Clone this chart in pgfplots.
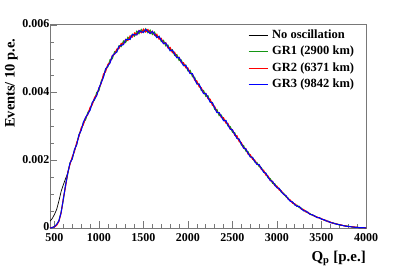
\documentclass[border=0pt]{standalone}
\usepackage{pgfplots}
\pgfplotsset{compat=1.18}
\usepackage{pgfplotstable}
\usepackage{fontspec}
\setmainfont{Liberation Serif}
\definecolor{rgreen}{RGB}{20,150,20}
\definecolor{rred}{RGB}{255,0,0}
\definecolor{rblue}{RGB}{0,0,255}
\definecolor{framegray}{RGB}{120,120,120}

\pgfplotstableread{
Q nosc gr1 gr2 gr3
450 0.00020 0.00000 0.00000 0.00000
475 0.00028 0.00001 0.00002 0.00001
500 0.00040 0.00005 0.00003 0.00004
525 0.00055 0.00010 0.00008 0.00011
550 0.00080 0.00022 0.00019 0.00021
575 0.00108 0.00047 0.00044 0.00046
600 0.00128 0.00083 0.00088 0.00086
625 0.00146 0.00128 0.00122 0.00127
650 0.00163 0.00160 0.00165 0.00163
675 0.00191 0.00193 0.00188 0.00192
700 0.00207 0.00204 0.00211 0.00205
725 0.00228 0.00231 0.00226 0.00232
750 0.00250 0.00247 0.00253 0.00246
775 0.00272 0.00276 0.00270 0.00275
800 0.00292 0.00290 0.00296 0.00288
825 0.00308 0.00312 0.00305 0.00313
850 0.00323 0.00320 0.00327 0.00327
875 0.00338 0.00342 0.00335 0.00337
900 0.00353 0.00349 0.00357 0.00348
925 0.00367 0.00371 0.00364 0.00371
950 0.00382 0.00378 0.00386 0.00381
975 0.00396 0.00401 0.00393 0.00391
1000 0.00410 0.00406 0.00414 0.00414
1025 0.00430 0.00434 0.00427 0.00429
1050 0.00450 0.00446 0.00455 0.00445
1075 0.00466 0.00471 0.00462 0.00470
1100 0.00480 0.00476 0.00484 0.00479
1125 0.00493 0.00498 0.00489 0.00488
1150 0.00505 0.00500 0.00510 0.00509
1175 0.00516 0.00521 0.00513 0.00515
1200 0.00525 0.00520 0.00529 0.00520
1225 0.00533 0.00539 0.00530 0.00537
1250 0.00541 0.00536 0.00546 0.00540
1275 0.00547 0.00553 0.00543 0.00542
1300 0.00553 0.00548 0.00558 0.00557
1325 0.00558 0.00564 0.00554 0.00557
1350 0.00563 0.00558 0.00568 0.00558
1375 0.00568 0.00573 0.00564 0.00572
1400 0.00572 0.00567 0.00577 0.00571
1425 0.00576 0.00582 0.00571 0.00571
1450 0.00579 0.00574 0.00584 0.00583
1475 0.00581 0.00587 0.00577 0.00580
1500 0.00583 0.00578 0.00588 0.00578
1525 0.00583 0.00589 0.00579 0.00587
1550 0.00582 0.00577 0.00587 0.00581
1575 0.00580 0.00585 0.00575 0.00575
1600 0.00577 0.00572 0.00582 0.00581
1625 0.00573 0.00579 0.00569 0.00572
1650 0.00568 0.00563 0.00573 0.00563
1675 0.00562 0.00567 0.00558 0.00566
1700 0.00556 0.00551 0.00561 0.00555
1725 0.00550 0.00555 0.00545 0.00545
1750 0.00543 0.00538 0.00548 0.00547
1775 0.00536 0.00541 0.00532 0.00535
1800 0.00529 0.00524 0.00534 0.00524
1825 0.00522 0.00527 0.00518 0.00526
1850 0.00515 0.00510 0.00520 0.00514
1875 0.00508 0.00513 0.00504 0.00503
1900 0.00500 0.00495 0.00505 0.00504
1925 0.00492 0.00497 0.00488 0.00491
1950 0.00485 0.00480 0.00489 0.00480
1975 0.00477 0.00482 0.00473 0.00481
2000 0.00469 0.00464 0.00473 0.00468
2025 0.00461 0.00466 0.00457 0.00456
2050 0.00452 0.00447 0.00456 0.00456
2075 0.00441 0.00446 0.00437 0.00440
2100 0.00431 0.00426 0.00435 0.00426
2125 0.00421 0.00426 0.00417 0.00425
2150 0.00411 0.00406 0.00415 0.00410
2175 0.00402 0.00407 0.00398 0.00397
2200 0.00394 0.00389 0.00398 0.00398
2225 0.00386 0.00391 0.00382 0.00385
2250 0.00377 0.00372 0.00381 0.00372
2275 0.00366 0.00371 0.00362 0.00370
2300 0.00356 0.00351 0.00360 0.00355
2325 0.00346 0.00351 0.00342 0.00341
2350 0.00337 0.00332 0.00341 0.00341
2375 0.00330 0.00334 0.00326 0.00329
2400 0.00322 0.00318 0.00326 0.00317
2425 0.00314 0.00318 0.00310 0.00318
2450 0.00305 0.00301 0.00309 0.00304
2475 0.00296 0.00300 0.00292 0.00292
2500 0.00287 0.00283 0.00291 0.00290
2525 0.00278 0.00282 0.00274 0.00277
2550 0.00269 0.00265 0.00273 0.00265
2575 0.00259 0.00263 0.00255 0.00262
2600 0.00249 0.00245 0.00253 0.00248
2625 0.00240 0.00244 0.00236 0.00236
2650 0.00231 0.00227 0.00235 0.00234
2675 0.00222 0.00226 0.00218 0.00221
2700 0.00214 0.00210 0.00217 0.00210
2725 0.00206 0.00209 0.00203 0.00209
2750 0.00198 0.00195 0.00201 0.00197
2775 0.00191 0.00194 0.00188 0.00188
2800 0.00184 0.00181 0.00187 0.00187
2825 0.00176 0.00179 0.00173 0.00175
2850 0.00168 0.00165 0.00171 0.00165
2875 0.00159 0.00162 0.00156 0.00162
2900 0.00151 0.00148 0.00154 0.00150
2925 0.00143 0.00146 0.00140 0.00140
2950 0.00135 0.00132 0.00138 0.00138
2975 0.00128 0.00131 0.00125 0.00127
3000 0.00122 0.00119 0.00124 0.00119
3025 0.00115 0.00117 0.00112 0.00117
3050 0.00108 0.00105 0.00110 0.00107
3075 0.00101 0.00103 0.00099 0.00099
3100 0.00094 0.00092 0.00096 0.00096
3125 0.00087 0.00089 0.00085 0.00086
3150 0.00081 0.00079 0.00083 0.00079
3175 0.00075 0.00077 0.00073 0.00077
3200 0.00070 0.00068 0.00072 0.00069
3225 0.00066 0.00068 0.00064 0.00064
3250 0.00062 0.00060 0.00064 0.00064
3275 0.00057 0.00059 0.00055 0.00056
3300 0.00053 0.00051 0.00055 0.00051
3325 0.00049 0.00050 0.00047 0.00050
3350 0.00045 0.00044 0.00047 0.00045
3375 0.00041 0.00042 0.00040 0.00040
3400 0.00038 0.00037 0.00039 0.00039
3425 0.00035 0.00036 0.00034 0.00035
3450 0.00032 0.00031 0.00033 0.00031
3475 0.00030 0.00031 0.00029 0.00031
3500 0.00027 0.00026 0.00028 0.00026
3525 0.00024 0.00025 0.00023 0.00025
3550 0.00022 0.00021 0.00023 0.00021
3575 0.00019 0.00020 0.00018 0.00020
3600 0.00017 0.00016 0.00018 0.00016
3625 0.00015 0.00016 0.00014 0.00015
3650 0.00013 0.00012 0.00014 0.00013
3675 0.00011 0.00012 0.00011 0.00011
3700 0.00010 0.00009 0.00010 0.00010
3725 0.00008 0.00008 0.00009 0.00008
3750 0.00007 0.00007 0.00006 0.00007
3775 0.00006 0.00006 0.00006 0.00005
3800 0.00005 0.00005 0.00004 0.00005
3825 0.00004 0.00004 0.00004 0.00004
3850 0.00003 0.00003 0.00003 0.00003
3875 0.00002 0.00002 0.00003 0.00002
3900 0.00002 0.00002 0.00002 0.00002
3925 0.00001 0.00001 0.00001 0.00001
3950 0.00001 0.00001 0.00001 0.00001
3975 0.00001 0.00001 0.00001 0.00001
4000 0.00000 0.00000 0.00000 0.00000
}\datatable

\begin{document}
\begin{tikzpicture}
\useasboundingbox (-50pt,-41pt) rectangle (357pt,228pt);
\begin{axis}[
  scale only axis, width=316pt, height=204pt,
  xmin=450, xmax=4000, ymin=0, ymax=0.00603,
  xtick={500,1000,...,4000}, ytick={0,0.002,0.004,0.006},
  minor x tick num=4, minor y tick num=3,
  tick align=inside, tick pos=left,
  major tick length=7pt, minor tick length=4pt,
  axis line style={framegray, line width=0.7pt},
  every tick/.style={framegray, line width=0.6pt},
  scaled y ticks=false, scaled x ticks=false,
  /pgf/number format/assume math mode=true,
  /pgf/number format/1000 sep={},
  xticklabel style={/pgf/number format/1000 sep={}, yshift=-1.5pt},
  yticklabel style={/pgf/number format/fixed, /pgf/number format/precision=3, xshift=3pt, yshift=1pt},
  ticklabel style={font=\fontsize{12}{14}\selectfont\rmfamily\bfseries},
  xlabel={Q\textsubscript{p} [p.e.]},
  xlabel style={at={(axis description cs:1,0)}, anchor=base east, yshift=-33pt, inner sep=0pt, font=\fontsize{15}{18}\selectfont\bfseries},
  ylabel={Events/ 10 p.e.},
  ylabel style={at={(axis description cs:-0.1123,0.93)}, anchor=base east, inner sep=0pt, font=\fontsize{14.5}{17}\selectfont\bfseries},
  legend style={at={(axis description cs:0.6266,0.98)}, anchor=north west, draw=none, fill=none, inner sep=0pt,
    font=\fontsize{12.5}{15}\selectfont\bfseries, row sep=2.5pt, column sep=3pt,
    nodes={text height=9pt, text depth=3pt, inner sep=1pt}},
  legend cell align=left,
  legend image code/.code={\draw[#1] (0pt,0pt) -- (19pt,0pt);},
]
\addplot[black, line width=0.7pt] table[x=Q, y=nosc] {\datatable};
\addlegendentry{No oscillation}
\addplot[rgreen, line width=1pt] table[x=Q, y=gr1] {\datatable};
\addlegendentry{GR1 (2900 km)}
\addplot[rred, line width=1pt] table[x=Q, y=gr2] {\datatable};
\addlegendentry{GR2 (6371 km)}
\addplot[rblue, line width=1pt] table[x=Q, y=gr3] {\datatable};
\addlegendentry{GR3 (9842 km)}
\end{axis}
\end{tikzpicture}
\end{document}
